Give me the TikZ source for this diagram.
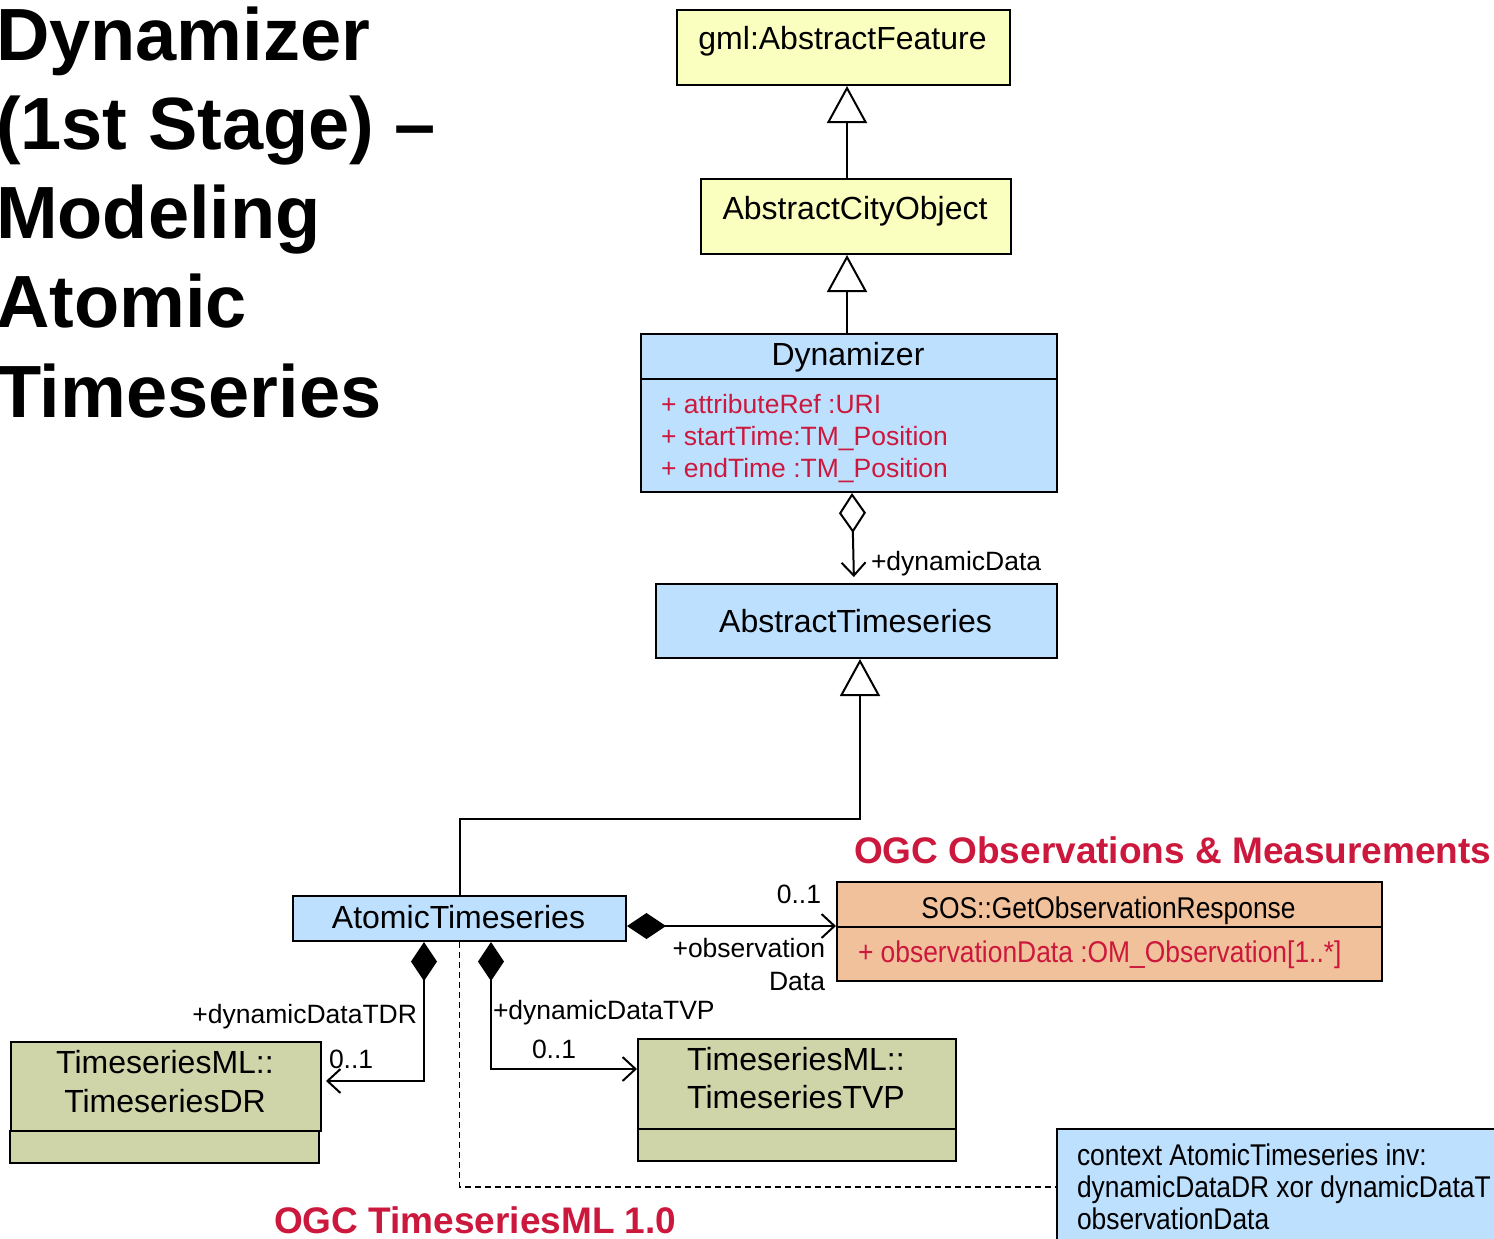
\documentclass[tikz,border=0pt]{standalone}
\usepackage{fontspec}
\setmainfont{Liberation Sans}
\newfontfamily\narrowsans[FakeStretch=0.88]{Liberation Sans}
\usetikzlibrary{arrows.meta}

\definecolor{umlyellow}{RGB}{250,255,192}
\definecolor{umlblue}{RGB}{190,224,255}
\definecolor{umlsalmon}{RGB}{241,193,155}
\definecolor{umlolive}{RGB}{207,213,169}
\definecolor{ogcred}{RGB}{204,24,60}

\newcommand{\slidetitlefont}{\fontsize{74}{89}\selectfont\bfseries}
\newcommand{\umlnamefont}{\fontsize{32}{38}\selectfont}
\newcommand{\umlrolefont}{\fontsize{26.5}{32}\selectfont}
\newcommand{\umlnarrowfont}{\narrowsans\fontsize{30}{32}\selectfont}
\newcommand{\ogcfont}{\fontsize{37}{44}\selectfont\bfseries}

\begin{document}
\begin{tikzpicture}[x=1pt, y=-1pt, line width=2pt,
    classbox/.style={draw, anchor=north west, inner sep=0pt},
    nametext/.style={anchor=base, inner sep=0pt, font=\umlnamefont},
    attrtext/.style={anchor=base west, inner sep=0pt, font=\umlrolefont, text=ogcred},
    roletext/.style={inner sep=0pt, font=\umlrolefont},
    notetext/.style={anchor=base west, inner sep=0pt, font=\umlnarrowfont},
    ogctext/.style={anchor=base west, inner sep=0pt, font=\ogcfont, text=ogcred},
    gen/.style={-{Triangle[open, length=37pt, width=40pt, fill=white]}},
    aggr/.style={{Diamond[open, length=40pt, width=27pt]}-{Straight Barb[length=13pt, width=24pt]}},
    comp/.style={{Diamond[length=39pt, width=26pt]}-{Straight Barb[length=13pt, width=24pt]}},
    constraint/.style={dash pattern=on 6pt off 4pt, line width=1.5pt},
  ]
  \path[use as bounding box, fill=white] (0,0) rectangle (1494,1239);
  \clip (0,0) rectangle (1494,1239);

  % slide title
  \foreach \titleline [count=\i from 0] in {Dynamizer, {(1st Stage) –}, Modeling, Atomic, Timeseries}
    \node[anchor=base west, inner sep=0pt, font=\slidetitlefont] (title\i) at (-5,{60+89.3*\i}) {\titleline};

  % CityGML classes
  \node[classbox, fill=umlyellow, minimum width=333pt, minimum height=75pt] (feat) at (676,9) {};
  \node[nametext] (featname) at (842.5,50) {gml:AbstractFeature};
  \node[classbox, fill=umlyellow, minimum width=310pt, minimum height=75pt] (city) at (700,178) {};
  \node[nametext] (cityname) at (855,219) {AbstractCityObject};

  % Dynamizer with attributes
  \node[classbox, fill=umlblue, minimum width=416pt, minimum height=45pt] (dynhead) at (640,333) {};
  \node[nametext] (dynname) at (848,365) {Dynamizer};
  \node[classbox, fill=umlblue, minimum width=416pt, minimum height=113pt] (dynattr) at (640,378) {};
  \node[attrtext] (attrref) at (660,413) {+ attributeRef :URI};
  \node[attrtext] (attrstart) at (660,445) {+ startTime:TM\_Position};
  \node[attrtext] (attrend) at (660,477) {+ endTime :TM\_Position};

  \node[classbox, fill=umlblue, minimum width=401pt, minimum height=74pt] (abts) at (655,583) {};
  \node[nametext] (abtsname) at (855.5,632) {AbstractTimeseries};

  \node[classbox, fill=umlblue, minimum width=333pt, minimum height=45pt] (atomic) at (292,895) {};
  \node[nametext] (atomicname) at (458.5,928) {AtomicTimeseries};

  % O&M response
  \node[ogctext] (omtitle) at (853,863) {OGC Observations \& Measurements};
  \node[classbox, fill=umlsalmon, minimum width=545pt, minimum height=45pt] (soshead) at (836,881) {};
  \node[nametext, font=\umlnarrowfont] (sosname) at (1108.5,918) {SOS::GetObservationResponse};
  \node[classbox, fill=umlsalmon, minimum width=545pt, minimum height=54pt] (sosattr) at (836,926) {};
  \node[attrtext, font=\umlnarrowfont] (sosdata) at (857,962) {+ observationData :OM\_Observation[1..*]};

  % TimeseriesML classes
  \node[classbox, fill=umlolive, minimum width=310pt, minimum height=89pt] (drhead) at (10,1041) {};
  \node[classbox, fill=umlolive, minimum width=309pt, minimum height=32pt] (drbody) at (9,1130) {};
  \node[nametext] (drpkg) at (165,1073) {TimeseriesML::};
  \node[nametext] (drname) at (165,1112) {TimeseriesDR};
  \node[classbox, fill=umlolive, minimum width=318pt, minimum height=90pt] (tvphead) at (637,1038) {};
  \node[classbox, fill=umlolive, minimum width=318pt, minimum height=32pt] (tvpbody) at (637,1128) {};
  \node[nametext] (tvppkg) at (796,1070) {TimeseriesML::};
  \node[nametext] (tvpname) at (796,1108) {TimeseriesTVP};
  \node[ogctext] (tsmltitle) at (273,1233) {OGC TimeseriesML 1.0};

  % OCL note
  \node[classbox, fill=umlblue, line width=1.5pt, minimum width=500pt, minimum height=116pt] (note) at (1056,1128) {};
  \node[notetext] (ocl1) at (1076,1165) {context AtomicTimeseries inv:};
  \node[notetext] (ocl2) at (1076,1197) {dynamicDataDR xor dynamicDataT};
  \node[notetext] (ocl3) at (1076,1229) {observationData};

  % generalizations
  \draw[gen] ([xshift=-9pt]city.north) -- ([xshift=3.5pt]feat.south);
  \draw[gen] ([xshift=-2pt]dynhead.north) -- ([xshift=-9pt]city.south);
  \draw[gen] (atomic.north) -- ++(0,-76) -| ([xshift=3.5pt]abts.south);

  % associations
  \draw[aggr, shorten >=6pt] ([xshift=3pt]dynattr.south) -- ([xshift=-2.5pt]abts.north);
  \node[roletext, anchor=base west] (dynrole) at (870,570) {+dynamicData};

  \draw[comp] ([yshift=-7.5pt]atomic.east) -- (sosattr.north west);
  \node[roletext, anchor=base east] (obsmult) at (822,903) {0..1};
  \node[roletext, anchor=base east] (obsrole1) at (826,957) {+observation};
  \node[roletext, anchor=base east] (obsrole2) at (826,990) {Data};

  \draw[comp, shorten >=4pt] ([xshift=-35.5pt]atomic.south) |- ([yshift=5.5pt]drhead.east);
  \node[roletext, anchor=base east] (tdrrole) at (418,1023) {+dynamicDataTDR};
  \node[roletext, anchor=base west] (tdrmult) at (328,1068) {0..1};

  \draw[comp] ([xshift=31.5pt]atomic.south) |- ([yshift=15pt]tvphead.west);
  \node[roletext, anchor=base west] (tvprole) at (492,1019) {+dynamicDataTVP};
  \node[roletext, anchor=base west] (tvpmult) at (531,1058) {0..1};

  \draw[constraint] (atomic.south) |- (note.west);
\end{tikzpicture}
\end{document}
